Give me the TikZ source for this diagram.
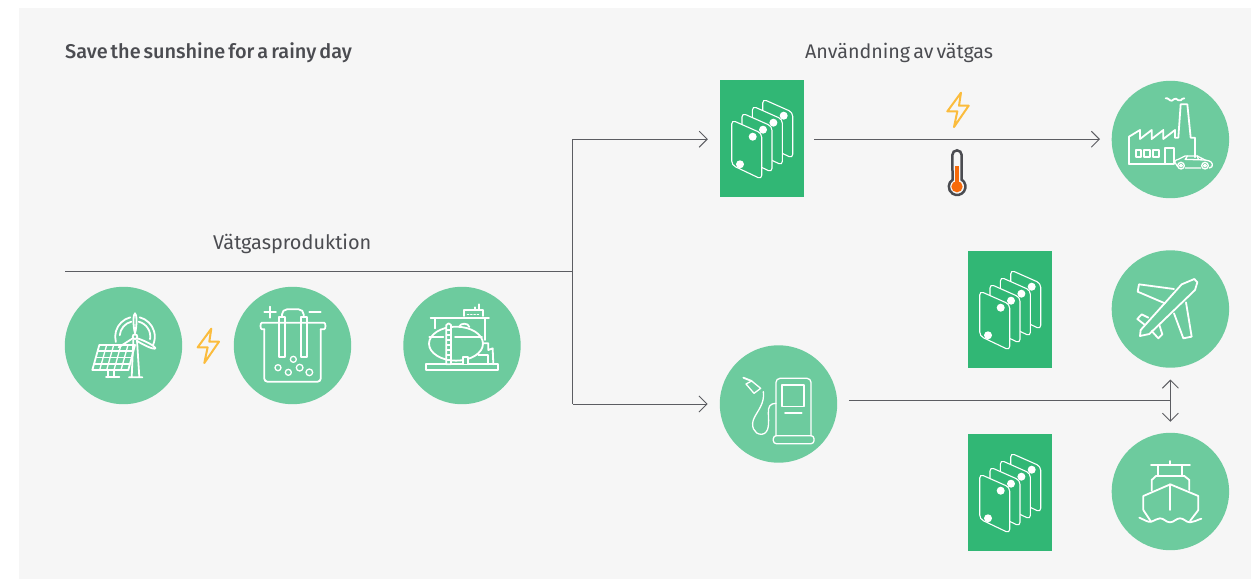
\documentclass[tikz,border=0pt]{standalone}
\usepackage{fontspec}
\setmainfont{Fira Sans}[WordSpace=0.6]
\newfontfamily\medfont{Fira Sans Medium}[WordSpace=0.6]
\usetikzlibrary{arrows.meta}
\definecolor{bgc}{HTML}{F6F6F6}
\definecolor{disc}{HTML}{6DCB9E}
\definecolor{panelc}{HTML}{31B775}
\definecolor{linec}{HTML}{5C5D62}
\definecolor{textc}{HTML}{4B4C51}
\definecolor{boltc}{HTML}{FBBC3D}
\definecolor{hot}{HTML}{F66A0A}
\tikzset{
  discnode/.style={circle,fill=disc,minimum size=117.4pt,inner sep=0pt},
  panelnode/.style={rectangle,fill=panelc,minimum width=84pt,minimum height=116.8pt,inner sep=0pt},
  conn/.style={draw=linec,line width=0.95pt},
  tipped/.style={conn,-{Straight Barb[length=8pt,width=16pt,line width=0.95pt]}},
  label/.style={text=textc,inner sep=0pt,anchor=base west},
  ico/.style={draw=white,line width=1.8pt,line join=round,line cap=round},
  icothin/.style={draw=white,line width=1.3pt,line join=round,line cap=round},
  zoomed/.style={x=0.33333pt,y=-0.33333pt},
}
\newcommand{\boltat}[2]{%
  \begin{scope}[shift={(#1,#2)},zoomed]
    \draw[draw=boltc,line width=2pt,line join=round,line cap=round]
      (0,0) -- (-41,56) -- (-11,56) -- (-21,103) -- (23,39) -- (-6,39) -- cycle;
  \end{scope}}
\newcommand{\plateat}[2]{%
  \begin{scope}[shift={(#1,#2)}]
    \draw[draw=white,fill=panelc,line width=1.1pt,rounded corners=4pt]
      (0,0) -- (30,13.3) -- (30,59.3) -- (0,45) -- cycle;
    \fill[white] (21,16.7) circle [radius=4];
    \fill[white] (8.3,44.3) circle [radius=4];
  \end{scope}}
\newcommand{\stackat}[2]{%
  \begin{scope}[shift={(#1,#2)}]
    \plateat{42.7}{19}
    \plateat{32.4}{26}
    \plateat{22}{33}
    \plateat{11.7}{40}
  \end{scope}}
\begin{document}
\begin{tikzpicture}[x=1pt,y=-1pt]
\useasboundingbox (0,0) rectangle (1251,579);
\fill[bgc] (19,8) rectangle (1251,579);

% discs and panels
\node[discnode] (solar) at (123.5,345.5) {};
\node[discnode] (cell) at (292.5,345.5) {};
\node[discnode] (tank) at (462,345.5) {};
\node[discnode] (factory) at (1170.4,139.5) {};
\node[discnode] (pump) at (778.5,404) {};
\node[discnode] (plane) at (1170.4,309) {};
\node[discnode] (ship) at (1170.4,491.5) {};
\node[panelnode] (stackA) at (762,138.4) {};
\node[panelnode] (stackB) at (1010,309.4) {};
\node[panelnode] (stackC) at (1010,492.4) {};

% texts
\node[label,font=\medfont\fontsize{19.9}{22}\selectfont] (title) at (65,58) {Save the sunshine for a rainy day};
\node[label,font=\fontsize{19.9}{22}\selectfont] (prod) at (213,249) {Vätgasproduktion};
\node[label,font=\fontsize{19.7}{22}\selectfont] (use) at (805,58) {Användning av vätgas};

% connectors
\coordinate (lineStart) at (65,271.5);
\coordinate (junction) at (572.5,271.5);
\coordinate (upCorner) at (572.5,139.2);
\coordinate (downCorner) at (572.5,404);
\coordinate (pumpEnd) at (1170.4,400.7);
\coordinate (tipUp) at (1170.4,379.5);
\coordinate (tipDown) at (1170.4,421.8);
\draw[conn] (lineStart) -- (junction);
\draw[conn] (upCorner) -- (downCorner);
\draw[tipped,shorten >=12pt] (upCorner) -- (upCorner -| stackA.west);
\draw[tipped] (downCorner) -- ([xshift=-12pt]pump.west);
\draw[tipped,shorten <=10pt,shorten >=11.5pt] (stackA.east |- upCorner) -- (factory.west |- upCorner);
\draw[conn,shorten <=11.5pt] (pump.east |- pumpEnd) -- (pumpEnd);
\draw[tipped,{Straight Barb[length=8pt,width=16pt,line width=0.95pt]}-{Straight Barb[length=8pt,width=16pt,line width=0.95pt]}] (tipUp) -- (tipDown);

% stacks
\stackat{720}{80}
\stackat{968}{251}
\stackat{968}{434}

% bolts
\boltat{211.3}{328.7}
\boltat{961}{92.7}

% thermometer
\begin{scope}[shift={(700,70)},zoomed]
  \fill[hot] (766,288) rectangle (777,340);
  \fill[hot] (771,350) circle [radius=17];
  \draw[draw=textc,line width=2.5pt]
    (785,329) arc [start angle=-57,end angle=237,radius=25] -- (757,255)
    arc [start angle=180,end angle=360,radius=14] -- cycle;
\end{scope}

% solar + wind
\begin{scope}[shift={(50,270)},zoomed]
  \draw[ico] (148,225) -- (255,225) -- (235,300) -- (127,300) -- cycle;
  \draw[icothin] (143,243) -- (250,243) (138,262) -- (245,262) (133,282) -- (240,282);
  \draw[icothin] (170,225) -- (149,300) (191,225) -- (170,300) (213,225) -- (192,300) (234,225) -- (213,300);
  \draw[ico] (174,300) -- (174,322) (192,300) -- (192,322) (168,322) -- (208,322);
  \draw[ico] (245,322) -- (250,210) (268,322) -- (261,210) (237,322) -- (277,322);
  \draw[ico] (255,200) circle [radius=7];
  \draw[ico] (255,190) .. controls (248,165) and (250,130) .. (255,130) .. controls (260,130) and (262,165) .. (255,190);
  \draw[ico] (262,205) .. controls (285,212) and (315,228) .. (316,235) .. controls (312,240) and (280,225) .. (260,212);
  \draw[ico] (248,205) -- (206,232);
  \draw[ico] (241,142) arc [start angle=-104,end angle=-195,radius=60];
  \draw[ico] (244,155) arc [start angle=-104,end angle=-175,radius=46];
  \draw[ico] (269,142) arc [start angle=-76,end angle=25,radius=60];
  \draw[ico] (266,155) arc [start angle=-76,end angle=10,radius=46];
\end{scope}

% electrolyser
\begin{scope}[shift={(50,270)},zoomed]
  \draw[ico] (643,178) -- (636,178) .. controls (630,178) and (630,158) .. (636,158) -- (822,158) .. controls (828,158) and (828,178) .. (822,178) -- (812,178);
  \draw[ico,rounded corners=3pt] (643,178) -- (643,335) -- (812,335) -- (812,178);
  \draw[ico] (687,142) rectangle (705,262);
  \draw[ico] (752,142) rectangle (770,262);
  \draw[ico,rounded corners=5pt] (696,142) -- (696,118) -- (761,118) -- (761,142);
  \draw[ico] (643,127) -- (678,127) (660,110) -- (660,143);
  \draw[ico] (778,126) -- (812,126);
  \draw[icothin] (730,268) circle [radius=9];
  \draw[icothin] (684,293) circle [radius=9];
  \draw[icothin] (715,307) circle [radius=9];
  \draw[icothin] (749,293) circle [radius=10];
  \draw[icothin] (778,307) circle [radius=10];
\end{scope}

% storage tank
\begin{scope}[shift={(390,280)},zoomed]
  \draw[ico] (108,253) rectangle (325,270);
  \draw[ico] (198,191) ellipse [x radius=81,y radius=51];
  \draw[ico] (118,170) -- (160,170) (195,170) -- (276,170);
  \draw[ico,fill=disc] (169,253) -- (169,135) -- (176,130) -- (183,135) -- (183,253) -- cycle;
  \draw[icothin] (169,150) -- (183,150) (169,165) -- (183,165) (169,180) -- (183,180) (169,195) -- (183,195) (169,210) -- (183,210) (169,225) -- (183,225) (169,240) -- (183,240);
  \draw[ico] (208,140) .. controls (210,128) and (236,128) .. (238,141);
  \draw[ico] (122,115) -- (297,115);
  \draw[ico] (135,115) -- (135,145) (285,115) -- (285,180);
  \draw[ico] (222,108) -- (222,90) -- (280,90) -- (280,108);
  \draw[ico] (268,90) -- (268,73) (255,90) -- (255,82);
  \draw[icothin,dotted] (232,103) -- (270,103);
  \draw[ico,fill=disc] (218,253) -- (218,230) -- (235,230) -- (235,253);
  \draw[ico] (278,190) -- (295,190) -- (295,210) -- (308,205) -- (310,253);
  \draw[ico] (265,225) -- (295,225) -- (295,253);
\end{scope}

% factory + car
\begin{scope}[shift={(1090,70)},zoomed]
  \draw[ico] (117,282) -- (117,200) -- (150,180) -- (150,207) -- (185,180) -- (185,207) -- (220,180) -- (220,207) -- (255,180) -- (255,203) -- (265,203) -- (272,103) -- (292,103) -- (302,203) -- (315,203) -- (315,262);
  \draw[ico] (117,282) -- (250,282);
  \draw[ico] (225,282) -- (225,233) -- (252,233) -- (252,282);
  \draw[ico] (137,240) rectangle (153,262);
  \draw[ico] (163,240) rectangle (180,262);
  \draw[ico] (190,240) rectangle (208,262);
  \draw[ico] (227,85) .. controls (235,82) and (238,94) .. (246,92) .. controls (252,90) and (252,84) .. (258,86) .. controls (264,88) and (266,95) .. (272,91) .. controls (276,88) and (278,84) .. (283,85);
  \draw[icothin] (260,285) .. controls (250,275) and (255,270) .. (265,268) -- (285,258) -- (322,258) -- (345,270) .. controls (362,272) and (370,278) .. (366,290) -- (358,294) (332,294) -- (286,294) (263,290) -- (260,285);
  \draw[icothin] (285,268) -- (345,270) (292,258) -- (286,268) (322,258) -- (325,268);
  \draw[icothin] (273,287) circle [radius=10];
  \draw[icothin] (345,287) circle [radius=10];
  \draw[icothin] (273,287) circle [radius=4];
  \draw[icothin] (345,287) circle [radius=4];
\end{scope}

% fuel pump
\begin{scope}[shift={(710,335)},zoomed]
  \draw[icothin,rounded corners=4pt] (198,302) -- (198,130) -- (303,130) -- (303,302);
  \draw[icothin,rounded corners=3pt] (190,302) rectangle (312,326);
  \draw[icothin] (216,150) rectangle (282,215);
  \draw[ico] (225,235) -- (275,235);
  \draw[icothin] (198,205) .. controls (180,205) and (174,215) .. (175,235) .. controls (176,260) and (180,295) .. (155,298) .. controls (130,298) and (122,270) .. (132,250) .. controls (142,228) and (165,205) .. (160,170);
  \draw[icothin] (108,147) -- (132,175) -- (152,160) -- (125,138) -- cycle;
  \draw[ico] (100,128) -- (125,138);
\end{scope}

% plane
\begin{scope}[shift={(1100,245)},zoomed]
  \draw[ico] (120,273) -- (122,255) -- (245,118) -- (283,102) -- (292,112) -- (285,135) -- (148,267) -- cycle;
  \draw[ico] (222,132) -- (117,118) -- (113,140) -- (195,175);
  \draw[ico] (258,172) -- (275,275) -- (250,280) -- (222,205);
  \draw[ico] (145,218) -- (125,208) -- (112,222) -- (135,240);
  \draw[ico] (155,258) -- (175,280) -- (187,268) -- (178,240);
\end{scope}

% ship
\begin{scope}[shift={(1100,370)},zoomed]
  \draw[ico] (153,286) -- (270,286) (211,273) -- (211,286) (175,286) -- (175,318) (245,286) -- (245,318);
  \draw[ico] (155,362) -- (155,330) -- (168,318) -- (253,318) -- (268,330) -- (268,360);
  \draw[ico] (153,455) -- (130,420) -- (130,378) -- (211,343) -- (295,378) -- (295,420) -- (270,453);
  \draw[ico] (211,343) -- (211,420);
  \draw[ico] (118,443) .. controls (135,450) and (142,457) .. (153,455) .. controls (165,452) and (170,445) .. (180,445) .. controls (192,445) and (198,457) .. (210,457) .. controls (222,457) and (228,445) .. (240,445) .. controls (252,445) and (258,457) .. (270,457) .. controls (282,457) and (290,450) .. (304,446);
\end{scope}
\end{tikzpicture}
\end{document}
